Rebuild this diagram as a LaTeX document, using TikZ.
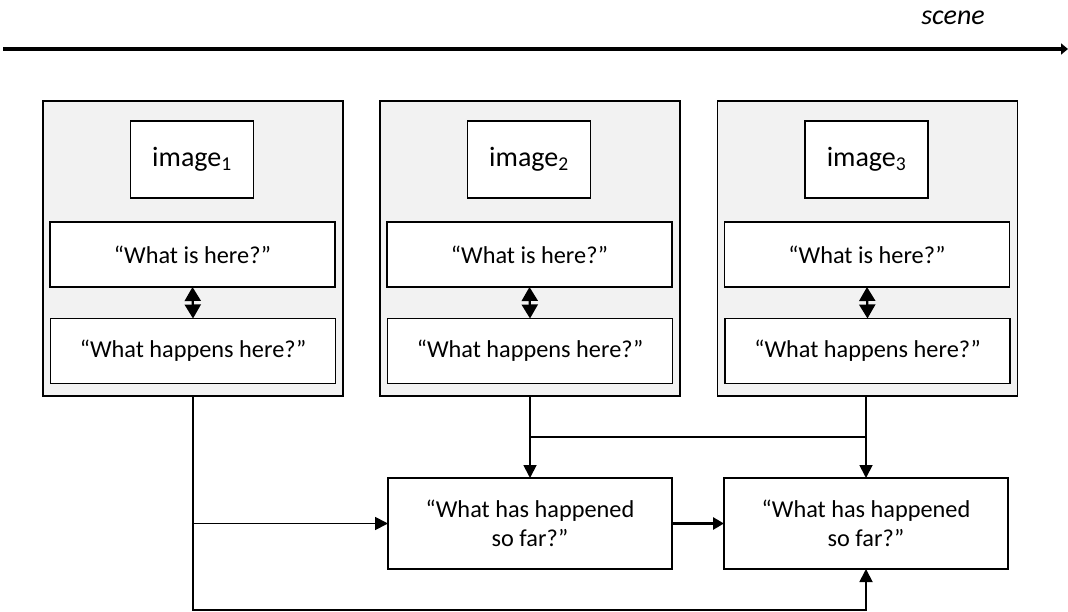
\documentclass[tikz,border=0pt]{standalone}
\usepackage{fontspec}
\setmainfont{Carlito}
\usetikzlibrary{arrows.meta}
\definecolor{panelgray}{HTML}{F2F2F2}
\tikzset{
  x=1pt,y=-1pt,
  panel/.style={draw=black,line width=1.7pt,fill=panelgray,inner sep=0pt,outer sep=0pt,minimum width=300pt,minimum height=295pt},
  imgbox/.style={draw=black,line width=1.7pt,fill=white,inner sep=0pt,outer sep=0pt,minimum width=123pt,minimum height=77pt,font=\fontsize{28}{32}\selectfont},
  qbox/.style={draw=black,line width=1.7pt,fill=white,inner sep=0pt,outer sep=0pt,minimum width=285pt,minimum height=65pt,font=\fontsize{24.3}{28}\selectfont},
  sfbox/.style={draw=black,line width=1.7pt,fill=white,inner sep=0pt,outer sep=0pt,minimum width=284pt,minimum height=91pt,align=center,font=\fontsize{24.3}{29}\selectfont},
  conn/.style={line width=1.8pt,-{Triangle[length=13pt,width=13pt]}},
  plainconn/.style={line width=1.8pt},
  dbl/.style={line width=2.2pt,{Triangle[length=14pt,width=16pt]}-{Triangle[length=14pt,width=16pt]}},
}
\begin{document}
\begin{tikzpicture}
\path[use as bounding box] (0,0) rectangle (1068,612);
% timeline
\coordinate (tl0) at (3,49);
\coordinate (tl1) at (1068,49);
\draw[line width=3.4pt,-{Triangle[length=7pt,width=11pt]}] (tl0) -- (tl1);
\node[font=\fontsize{28}{32}\selectfont\itshape] (scene) at (953,18) {scene};
% panels
\foreach \i/\cx in {1/193,2/530,3/867.5}{
  \node[panel] (o\i) at (\cx,248.5) {};
  \node[imgbox] (img\i) at (\cx-1,159.5) {image\textsubscript{\i}};
  \node[qbox] (wi\i) at (\cx-0.5,254.5) {“What is here?”};
  \node[qbox] (wh\i) at (\cx,351) {“What happens here?”};
  \draw[dbl] (wi\i.south) -- (wh\i.north);
}
% lower boxes
\node[sfbox] (b4) at (530,523.5) {“What has happened\\so far?”};
\node[sfbox] (b5) at (866,523.5) {“What has happened\\so far?”};
% connectors
\coordinate (bl) at (193,610);
\coordinate (mid) at (530,437);
\draw[conn] (o1.south) -- (bl) -- (bl -| b5.south) -- (b5.south);
\draw[conn] (o1.south |- b4.west) -- (b4.west);
\draw[conn] (o2.south) -- (b4.north);
\draw[plainconn] (o2.south |- mid) -- (mid -| b5.north);
\draw[conn] (o3.south -| b5.north) -- (b5.north);
\draw[line width=3.5pt,-{Triangle[length=11pt,width=12pt]}] (b4.east) -- (b5.west);
\end{tikzpicture}
\end{document}
